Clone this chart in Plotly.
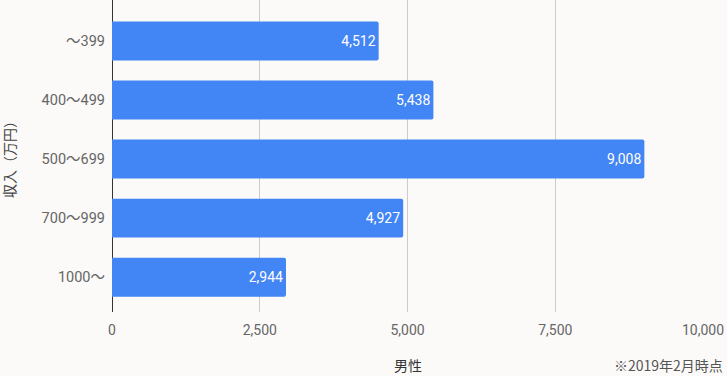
import plotly.graph_objects as go

categories = ["～399", "400～499", "500～699", "700～999", "1000～"]
values = [4512, 5438, 9008, 4927, 2944]
x_ticks = [0, 2500, 5000, 7500, 10000]
x_tick_labels = ["0", "2,500", "5,000", "7,500", "10,000"]

bg = "#fbfaf9"
fig = go.Figure(go.Bar(
    y=categories, x=values, orientation="h",
    marker=dict(color="#4285f4", line=dict(width=0)),
    width=0.66,
    text=[f"{v:,}" for v in values], textposition="inside",
    insidetextanchor="end",
    textfont=dict(color="white", size=14, family="Roboto"),
    hoverinfo="skip",
))
fig.update_layout(
    width=727, height=376,
    margin=dict(l=112, r=24, t=0, b=64),
    paper_bgcolor=bg, plot_bgcolor=bg,
    barcornerradius=2,
    font=dict(family="Roboto, 'Noto Sans CJK JP'", color="#666666", size=14),
    showlegend=False,
    xaxis=dict(range=[0, 10000], tickvals=x_ticks, ticktext=x_tick_labels,
               showgrid=True, gridcolor="#cccccc", gridwidth=1,
               zeroline=True, zerolinecolor="#333333", zerolinewidth=1,
               showline=False, ticks="", ticklabelstandoff=8,
               tickfont=dict(size=14, color="#666666"), fixedrange=True),
    yaxis=dict(categoryorder="array", categoryarray=categories,
               range=[4.59, -0.695], showgrid=False, zeroline=False,
               ticks="", ticklabelstandoff=6, fixedrange=True,
               tickfont=dict(size=14.5, color="#666666")),
    annotations=[
        dict(text="男性", x=5000, xref="x", y=-0.17, yref="paper",
             showarrow=False, font=dict(size=14, color="#333333", family="Noto Sans CJK JP"),
             yanchor="middle"),
        dict(text="※2019年2月時点", x=1.0, xref="paper", xanchor="right", y=-0.17, yref="paper",
             xshift=22, showarrow=False, yanchor="middle",
             font=dict(size=14, color="#555555", family="Noto Sans CJK JP")),
        dict(text="収入（万円）", textangle=-90, x=0, xref="paper", xanchor="center",
             xshift=-103, y=0.5, yref="paper", showarrow=False,
             font=dict(size=14, color="#444444", family="Noto Sans CJK JP")),
    ],
)
fig.write_html("out.html", config={"displayModeBar": False},
               post_script="document.body.style.margin='0';document.body.style.background='%s';" % bg)
